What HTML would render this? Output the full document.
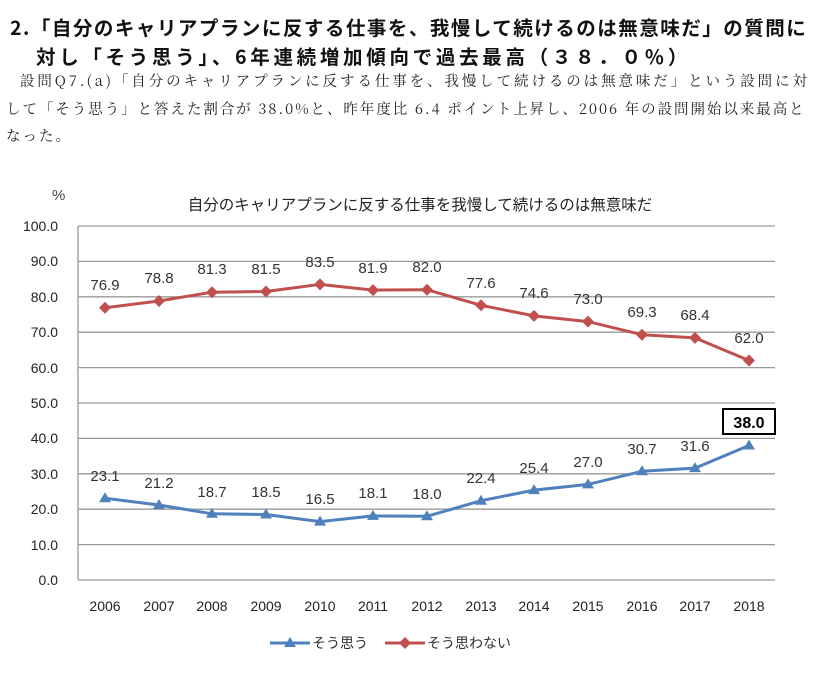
<!DOCTYPE html>
<html><head><meta charset="utf-8"><style>
body{margin:0;background:#fff;width:819px;height:676px;overflow:hidden;font-family:"Liberation Sans","Noto Sans CJK JP",sans-serif;}
.h{position:absolute;font-weight:bold;font-size:19.5px;color:#111;white-space:nowrap;font-family:"Noto Sans CJK JP",sans-serif;letter-spacing:1.5px;}
.p{position:absolute;font-size:14.5px;color:#222;white-space:nowrap;font-family:"Noto Serif CJK SC","Liberation Serif",serif;}
</style></head><body>
<div class="h" style="left:10px;top:12px;">2.「自分のキャリアプランに反する仕事を、我慢して続けるのは無意味だ」の質問に</div>
<div class="h" style="left:36px;top:41px;letter-spacing:3.7px;">対し「そう思う」、6年連続増加傾向で過去最高（３８．０％）</div>
<div class="p" style="left:20px;top:70px;letter-spacing:2.9px;">設問Q7.(a)「自分のキャリアプランに反する仕事を、我慢して続けるのは無意味だ」という設問に対</div>
<div class="p" style="left:6px;top:98px;letter-spacing:1.95px;">して「そう思う」と答えた割合が 38.0%と、昨年度比 6.4 ポイント上昇し、2006 年の設問開始以来最高と</div>
<div class="p" style="left:6px;top:125px;letter-spacing:2px;">なった。</div>
<svg style="position:absolute;left:0;top:0" width="819" height="676" font-family="Liberation Sans, Noto Sans CJK JP, sans-serif">
<text x="52" y="200" font-size="15" fill="#444">%</text>
<text x="420" y="210" font-size="15.5" fill="#222" text-anchor="middle" font-family="Noto Sans CJK JP, sans-serif">自分のキャリアプランに反する仕事を我慢して続けるのは無意味だ</text>
<g stroke="#999" stroke-width="1.3">
<line x1="78" y1="226" x2="775" y2="226"/><line x1="78" y1="261.4" x2="775" y2="261.4"/><line x1="78" y1="296.8" x2="775" y2="296.8"/><line x1="78" y1="332.2" x2="775" y2="332.2"/><line x1="78" y1="367.6" x2="775" y2="367.6"/><line x1="78" y1="403" x2="775" y2="403"/><line x1="78" y1="438.4" x2="775" y2="438.4"/><line x1="78" y1="473.8" x2="775" y2="473.8"/><line x1="78" y1="509.2" x2="775" y2="509.2"/><line x1="78" y1="544.6" x2="775" y2="544.6"/><line x1="78" y1="580" x2="775" y2="580"/>
<line x1="78" y1="226" x2="78" y2="580"/>
</g>
<g font-size="14" fill="#222" text-anchor="end">
<text x="58" y="231">100.0</text><text x="58" y="266">90.0</text><text x="58" y="302">80.0</text><text x="58" y="337">70.0</text><text x="58" y="373">60.0</text><text x="58" y="408">50.0</text><text x="58" y="443">40.0</text><text x="58" y="479">30.0</text><text x="58" y="514">20.0</text><text x="58" y="550">10.0</text><text x="58" y="585">0.0</text>
</g>
<g font-size="14" fill="#222" text-anchor="middle">
<text x="105" y="611">2006</text><text x="159" y="611">2007</text><text x="212" y="611">2008</text><text x="266" y="611">2009</text><text x="320" y="611">2010</text><text x="373" y="611">2011</text><text x="427" y="611">2012</text><text x="481" y="611">2013</text><text x="534" y="611">2014</text><text x="588" y="611">2015</text><text x="642" y="611">2016</text><text x="695" y="611">2017</text><text x="749" y="611">2018</text>
</g>
<polyline fill="none" stroke="#c0504d" stroke-width="3" points="105,307.8 159,301.0 212,292.2 266,291.5 320,284.4 373,290.1 427,289.7 481,305.3 534,315.9 588,321.6 642,334.7 695,337.9 749,360.5"/>
<g fill="#c0504d">
<path d="M105,301.8l6,6-6,6-6-6z"/><path d="M159,295l6,6-6,6-6-6z"/><path d="M212,286.2l6,6-6,6-6-6z"/><path d="M266,285.5l6,6-6,6-6-6z"/><path d="M320,278.4l6,6-6,6-6-6z"/><path d="M373,284.1l6,6-6,6-6-6z"/><path d="M427,283.7l6,6-6,6-6-6z"/><path d="M481,299.3l6,6-6,6-6-6z"/><path d="M534,309.9l6,6-6,6-6-6z"/><path d="M588,315.6l6,6-6,6-6-6z"/><path d="M642,328.7l6,6-6,6-6-6z"/><path d="M695,331.9l6,6-6,6-6-6z"/><path d="M749,354.5l6,6-6,6-6-6z"/>
</g>
<polyline fill="none" stroke="#4f81bd" stroke-width="3" points="105,498.2 159,505.0 212,513.8 266,514.5 320,521.6 373,515.9 427,516.3 481,500.7 534,490.1 588,484.4 642,471.3 695,468.1 749,445.5"/>
<g fill="#4f81bd">
<path d="M105,492.2l6,10h-12z"/><path d="M159,499l6,10h-12z"/><path d="M212,507.8l6,10h-12z"/><path d="M266,508.5l6,10h-12z"/><path d="M320,515.6l6,10h-12z"/><path d="M373,509.9l6,10h-12z"/><path d="M427,510.3l6,10h-12z"/><path d="M481,494.7l6,10h-12z"/><path d="M534,484.1l6,10h-12z"/><path d="M588,478.4l6,10h-12z"/><path d="M642,465.3l6,10h-12z"/><path d="M695,462.1l6,10h-12z"/><path d="M749,439.5l6,10h-12z"/>
</g>
<g font-size="15" fill="#333" text-anchor="middle">
<text x="105" y="290">76.9</text><text x="159" y="283">78.8</text><text x="212" y="274">81.3</text><text x="266" y="274">81.5</text><text x="320" y="267">83.5</text><text x="373" y="273">81.9</text><text x="427" y="272">82.0</text><text x="481" y="288">77.6</text><text x="534" y="298">74.6</text><text x="588" y="304">73.0</text><text x="642" y="317">69.3</text><text x="695" y="320">68.4</text><text x="749" y="343">62.0</text>
<text x="105" y="481">23.1</text><text x="159" y="488">21.2</text><text x="212" y="497">18.7</text><text x="266" y="497">18.5</text><text x="320" y="504">16.5</text><text x="373" y="498">18.1</text><text x="427" y="499">18.0</text><text x="481" y="483">22.4</text><text x="534" y="473">25.4</text><text x="588" y="467">27.0</text><text x="642" y="454">30.7</text><text x="695" y="451">31.6</text>
</g>
<rect x="723" y="409" width="52" height="25" fill="#fff" stroke="#000" stroke-width="2"/>
<text x="749" y="428" font-size="16" font-weight="bold" text-anchor="middle" fill="#000">38.0</text>
<line x1="270" y1="643" x2="310" y2="643" stroke="#4f81bd" stroke-width="3"/><path d="M290,637l6,10h-12z" fill="#4f81bd"/>
<text x="312" y="648" font-size="14" fill="#333" font-family="Noto Sans CJK JP, sans-serif">そう思う</text>
<line x1="385" y1="643" x2="425" y2="643" stroke="#c0504d" stroke-width="3"/><path d="M405,637l6,6-6,6-6-6z" fill="#c0504d"/>
<text x="427" y="648" font-size="14" fill="#333" font-family="Noto Sans CJK JP, sans-serif">そう思わない</text>
</svg>
</body></html>
